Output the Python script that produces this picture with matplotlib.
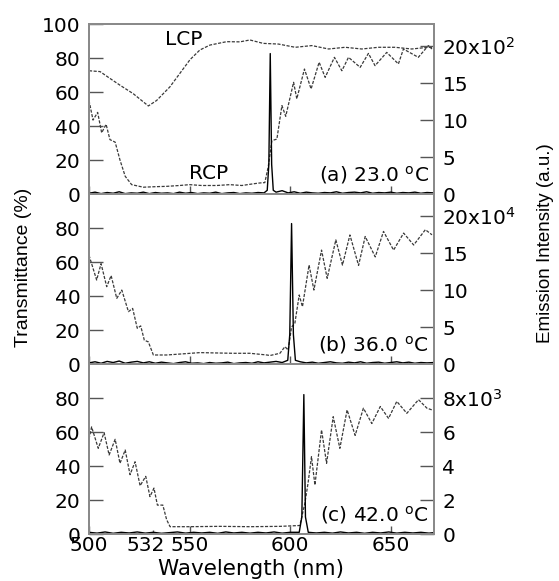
import matplotlib
matplotlib.use("Agg")
import matplotlib.pyplot as plt
from matplotlib.transforms import ScaledTranslation

plt.rcParams['font.family'] = 'DejaVu Sans'
plt.rcParams['mathtext.default'] = 'regular'

# transmittance (%) - panel (a), RCP and LCP
rcp_a_nm = [500, 502, 504.3, 506.3, 508.5, 510.4, 513, 515.4, 518, 521.2,
            527, 533, 538.6, 545, 550, 556, 563.5, 570, 576, 581.7,
            585, 587.4, 589.1, 590.9, 593.4, 595.9, 597.8, 601.7, 603.3, 607.1,
            610.4, 614.4, 617.4, 622, 625.7, 629, 634.8, 638.9, 642.2, 648,
            653.8, 656.3, 663.7, 668.7, 670.5]
rcp_a = [55, 43.5, 48, 36, 41, 32, 30.5, 20, 10.4, 5.5,
         4, 4.3, 4.5, 5, 5.5, 5, 5, 5.5, 5, 6,
         6.5, 6.7, 16, 31.4, 32.3, 52, 45.7, 65.7, 56, 73.5,
         61.8, 77.5, 68.6, 80.4, 72.5, 80.4, 74.5, 82.7, 75.5, 83.3,
         76.5, 85.3, 80.4, 87.3, 85.3]
lcp_a_nm = [500, 505.5, 510.4, 515.4, 522, 529.5, 533.6, 540.2, 545.2, 550.2,
            555.1, 560.1, 568.4, 575, 580, 586.6, 594.2, 602.5, 610.8, 619.1,
            627.3, 635.6, 643.9, 652.1, 660.4, 668.7, 671.5]
lcp_a = [72.5, 72, 68, 64, 59, 51.8, 55, 63, 71, 79,
         84.7, 87.6, 89.6, 89.5, 90.6, 88.6, 88.2, 86.3, 87.3, 85.3,
         86.3, 85.3, 86.3, 86.3, 85.3, 86.3, 86]

# panel (b)
rcp_b_nm = [500, 503.8, 506, 508.8, 511, 513.8, 516.3, 519.6, 521.7, 524,
            525.7, 527.5, 529.5, 532, 538.6, 547, 555.2, 563, 571.8, 580,
            588.4, 590, 594.9, 597.4, 599, 600.7, 602.3, 604.5, 606.1, 609.4,
            611.8, 615.6, 618.4, 622.7, 626, 629.7, 634, 637.3, 642.3, 646.4,
            651.4, 656.4, 661.4, 667.2, 670.5]
rcp_b = [64, 49.4, 59, 45.5, 52, 38.6, 43.5, 30.8, 32.7, 21,
         22.4, 14, 13, 5.3, 5.3, 6, 6.7, 6.5, 6.3, 6.3,
         5.3, 5, 6.3, 10.2, 8.2, 21.8, 23.7, 40.6, 33.7, 58.2,
         43.5, 67, 50.4, 73, 58.2, 75.9, 58, 75, 63, 78,
         67, 77, 70, 79, 76]

# panel (c)
rcp_c_nm = [500, 501.3, 504.6, 507.5, 510, 513, 515.4, 518, 520.4, 522.9,
            525.4, 528.2, 530.3, 532.3, 534, 536.7, 538.6, 540.3, 550, 565,
            580, 595, 604.8, 607.3, 608.9, 610.6, 612.3, 615.6, 618.1, 621.4,
            624.7, 628.3, 632.3, 636.4, 640.6, 644.8, 648.9, 653, 658, 663.8,
            668, 670.5]
rcp_c = [56, 63, 50.4, 59.6, 46.5, 55.7, 41.6, 49.4, 34.9, 42.5,
         28.4, 33.9, 22, 27, 17, 17, 8.4, 4.3, 4.3, 4.5,
         4.3, 4.5, 5, 18, 30, 45.5, 28.8, 61.2, 41.6, 69,
         50.4, 73, 58, 74, 65, 75, 68, 78, 71, 79,
         74, 73]

# emission intensity (right axis units)
em_a_nm = [500, 503, 506, 509, 512, 515, 518, 521, 524, 527,
           530, 533, 536, 539, 542, 545, 548, 551, 554, 557,
           560, 563, 566, 569, 572, 575, 578, 581, 584, 587,
           588.6, 589.4, 590.1, 590.8, 591.6,
           593, 596, 599, 602, 605, 608, 611, 614, 617, 620,
           623, 626, 629, 632, 635, 638, 641, 644, 647, 650,
           653, 656, 659, 662, 665, 668, 671.5]
em_a = [0.1, 0.25, 0.05, 0.2, 0.1, 0.3, 0.05, 0.15, 0.1, 0.25,
        0.05, 0.2, 0.1, 0.15, 0.05, 0.25, 0.1, 0.2, 0.05, 0.15,
        0.1, 0.25, 0.05, 0.15, 0.2, 0.05, 0.15, 0.1, 0.2, 0.15,
        0.5, 4.0, 19.0, 4.0, 0.5,
        0.25, 0.45, 0.15, 0.3, 0.1, 0.25, 0.15, 0.1, 0.2, 0.15,
        0.3, 0.1, 0.2, 0.25, 0.15, 0.3, 0.1, 0.2, 0.15, 0.25,
        0.1, 0.2, 0.15, 0.25, 0.1, 0.2, 0.15]

em_b_nm = [500, 503, 506, 509, 512, 515, 518, 521, 524, 527,
           530, 533, 536, 539, 542, 545, 548, 551, 554, 557,
           560, 563, 566, 569, 572, 575, 578, 581, 584, 587,
           590, 593, 596,
           598.8, 599.8, 600.7, 601.6, 602.6,
           605, 608, 611, 614, 617, 620, 623, 626, 629, 632,
           635, 638, 641, 644, 647, 650, 653, 656, 659, 662,
           665, 668, 671.5]
em_b = [0.15, 0.3, 0.1, 0.35, 0.2, 0.4, 0.1, 0.25, 0.35, 0.15,
        0.3, 0.1, 0.25, 0.15, 0.05, 0.2, 0.3, 0.1, 0.15, 0.05,
        0.2, 0.1, 0.15, 0.25, 0.05, 0.15, 0.2, 0.1, 0.3, 0.15,
        0.25, 0.35, 0.2,
        0.5, 4.0, 19.0, 4.0, 0.5,
        0.3, 0.15, 0.25, 0.1, 0.2, 0.3, 0.15, 0.1, 0.25, 0.15,
        0.3, 0.1, 0.2, 0.25, 0.1, 0.2, 0.3, 0.15, 0.25, 0.1,
        0.2, 0.15, 0.2]

em_c_nm = [500, 504, 508, 512, 516, 520, 524, 528, 532, 536,
           540, 544, 548, 552, 556, 560, 564, 568, 572, 576,
           580, 584, 588, 592, 596, 600,
           604.5, 605.8, 606.8, 607.6, 609,
           613, 617, 621, 625, 629, 633, 637, 641, 645, 649,
           653, 657, 661, 665, 669, 671.5]
em_c = [0.1, 0.05, 0.12, 0.04, 0.1, 0.06, 0.12, 0.05, 0.1, 0.04,
        0.08, 0.12, 0.05, 0.1, 0.06, 0.1, 0.04, 0.12, 0.06, 0.1,
        0.05, 0.1, 0.06, 0.12, 0.05, 0.1,
        0.1, 1.0, 8.2, 1.0, 0.1,
        0.06, 0.1, 0.05, 0.12, 0.06, 0.1, 0.04, 0.1, 0.06, 0.12,
        0.05, 0.1, 0.06, 0.1, 0.05, 0.08]

temps = ["(a) 23.0 $^{o}$C", "(b) 36.0 $^{o}$C", "(c) 42.0 $^{o}$C"]
left_ticks = [[0, 20, 40, 60, 80, 100], [0, 20, 40, 60, 80], [0, 20, 40, 60, 80]]
right_lims = [23, 23, 10]
right_ticks = [[0, 5, 10, 15, 20], [0, 5, 10, 15, 20], [0, 2, 4, 6, 8]]
right_labels = [["0", "5", "10", "15", "20x10$^{2}$"],
                ["0", "5", "10", "15", "20x10$^{4}$"],
                ["0", "2", "4", "6", "8x10$^{3}$"]]

spine_col = "#8a8a8a"
trans_col = "#3a3a3a"
fs = 14.5

fig = plt.figure(figsize=(5.59, 5.81), dpi=100)
W, H = 559, 581
x0, w = 89 / W, 345 / W
ph = 170 / H
bottoms = [1 - 194 / H, 1 - 364 / H, 1 - 534 / H]

trans_sets = [[(rcp_a_nm, rcp_a), (lcp_a_nm, lcp_a)],
              [(rcp_b_nm, rcp_b)],
              [(rcp_c_nm, rcp_c)]]
em_sets = [(em_a_nm, em_a), (em_b_nm, em_b), (em_c_nm, em_c)]

for i in range(3):
    ax = fig.add_axes([x0, bottoms[i], w, ph])
    ax2 = ax.twinx()
    for xs, ys in trans_sets[i]:
        ax.plot(xs, ys, color=trans_col, lw=0.9, linestyle=(0, (2.5, 1.2)))
    ax2.plot(em_sets[i][0], em_sets[i][1], color="black", lw=1.0)

    ax.set_xlim(500, 671.5)
    ax.set_ylim(0, 100)
    ax2.set_ylim(0, right_lims[i])
    ax.set_yticks(left_ticks[i])
    ax2.set_yticks(right_ticks[i], labels=right_labels[i])

    ax.set_xticks([500, 550, 600, 650])
    if i == 2:
        ax.set_xticks([532], labels=["532"], minor=True)
    else:
        ax.set_xticks([], minor=True)

    ax.tick_params(axis="y", direction="in", length=10, width=1, color="#555555",
                   pad=6, labelsize=fs)
    ax2.tick_params(axis="y", direction="in", length=10, width=1, color="#555555",
                    pad=6, labelsize=fs)
    ax.tick_params(axis="x", which="major", direction="in", length=6, width=1,
                   color="#555555", pad=1.5, labelsize=fs)
    ax.tick_params(axis="x", which="minor", direction="in", length=3, width=1,
                   color="#555555", pad=1.5, labelsize=fs)
    if i < 2:
        ax.tick_params(axis="x", which="both", labelbottom=False)
    else:
        # the 532 label sits a little left of its tick in the original
        for t in ax.xaxis.get_minor_ticks():
            t.label1.set_horizontalalignment("right")
            t.label1.set_transform(t.label1.get_transform() +
                                   ScaledTranslation(12 / 100, 0, fig.dpi_scale_trans))

    for a in (ax, ax2):
        for s in a.spines.values():
            s.set_color(spine_col)
            s.set_linewidth(1.4)

    ax.text(0.985, 0.078, temps[i], transform=ax.transAxes, ha="right",
            va="baseline", fontsize=fs)

    if i == 0:
        ax.text(547.2, 90.6, "LCP", ha="center", va="center", fontsize=fs)
        ax.text(559.4, 12.2, "RCP", ha="center", va="center", fontsize=fs)

fig.text(24 / W, 1 - 267 / H, "Transmittance (%)", rotation=90, ha="center",
         va="center", fontsize=14, family="Liberation Sans")
fig.text(545 / W, 1 - 243 / H, "Emission Intensity (a.u.)", rotation=90,
         ha="center", va="center", fontsize=13.5, family="Liberation Sans")
fig.text(251.5 / W, 2 / H, "Wavelength (nm)", ha="center", va="bottom",
         fontsize=15.5)

fig.savefig("out.png", dpi=100)
